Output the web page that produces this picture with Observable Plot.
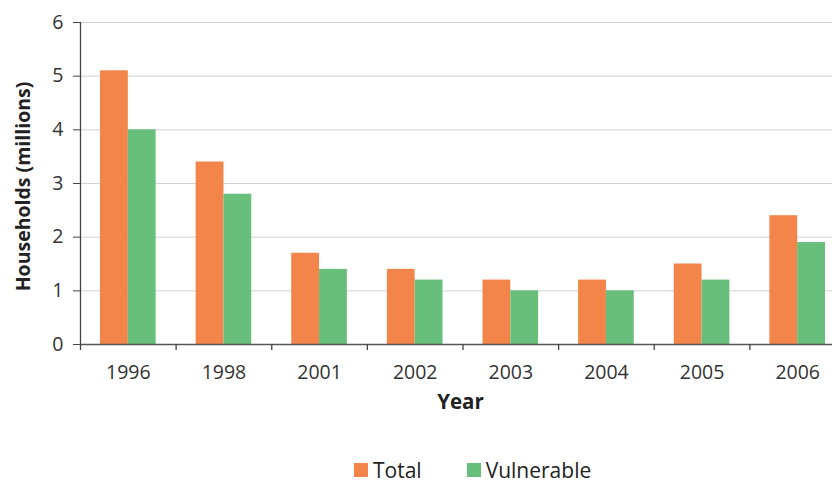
<!DOCTYPE html>
<html>
<head>
<meta charset="utf-8">
<script src="https://cdn.jsdelivr.net/npm/d3@7"></script>
<script src="https://cdn.jsdelivr.net/npm/@observablehq/plot@0.6"></script>
<style>
  body { margin: 0; background: #fff; font-family: "Open Sans", sans-serif; }
  #wrap { position: relative; width: 832px; height: 486px; }
  #chart svg text { font-size: 19.5px !important; }
  #chart svg g.lbl text { font-size: 20.5px !important; font-weight: bold; }
  #chart svg g.lbl.ylbl text { font-size: 19.5px !important; }
  #legend { position: absolute; left: 354px; top: 460px; display: flex; align-items: center; font-size: 21px; color: #222; white-space: nowrap; line-height: 20px; }
  .sw { display: inline-block; width: 14px; height: 14px; margin-right: 5px; }
  .item { display: flex; align-items: center; margin-right: 45px; }
</style>
</head>
<body>
<div id="wrap">
  <div id="chart"></div>
  <div id="legend"></div>
</div>
<script>
const years = ["1996", "1998", "2001", "2002", "2003", "2004", "2005", "2006"];
const total = [5.1, 3.4, 1.7, 1.4, 1.2, 1.2, 1.5, 2.4];
const vulnerable = [4.0, 2.8, 1.4, 1.2, 1.0, 1.0, 1.2, 1.9];
const seriesNames = ["Total", "Vulnerable"];
const colors = ["#F3844A", "#68BF7B"];
const yTicks = [0, 1, 2, 3, 4, 5, 6];

const totalData = years.map((y, i) => ({year: y, value: total[i]}));
const vulnData = years.map((y, i) => ({year: y, value: vulnerable[i]}));

const step = (845 - 80) / years.length;

const plot = Plot.plot({
  width: 832,
  height: 450,
  marginTop: 22,
  marginBottom: 106,
  marginLeft: 80,
  marginRight: 0,
  style: {fontFamily: "Open Sans, sans-serif", fontSize: "19px", color: "#333", overflow: "visible"},
  x: {domain: years, range: [80, 845], padding: 0, round: false, axis: null},
  y: {domain: [0, 6], axis: null},
  marks: [
    Plot.ruleY(yTicks.filter(d => d > 0), {stroke: "#d2d2d2", strokeWidth: 1}),
    Plot.barY(totalData, {x: "year", y: "value", fill: colors[0], insetLeft: 20, insetRight: 47.8}),
    Plot.barY(vulnData, {x: "year", y: "value", fill: colors[1], insetLeft: 47.8, insetRight: 20}),
    Plot.ruleY([0], {stroke: "#555", strokeWidth: 1.3}),
    Plot.ruleX(years, {x: d => d, dx: -step / 2, y1: 0, y2: 0, insetBottom: -6, stroke: "#444", strokeWidth: 1.3}),
    Plot.ruleX([years[0]], {x: d => d, dx: -step / 2, y1: 0, y2: 6, stroke: "#444", strokeWidth: 1.3}),
    Plot.axisY({ticks: yTicks, tickSize: 7, tickPadding: 10, tickFormat: d => String(d), stroke: "#444", fill: "#333", label: null}),
    Plot.axisX({tickSize: 0, tickPadding: 21, fill: "#333", label: null}),
    Plot.text(["Year"], {frameAnchor: "bottom", dx: 4, dy: 64, fill: "#222"}),
    Plot.text(["Households (millions)"], {frameAnchor: "left", textAnchor: "middle", rotate: -90, dx: -57, dy: 3, fill: "#222"})
  ]
});
document.getElementById("chart").appendChild(plot);
// style the two axis-title text groups
const titleGroups = plot.querySelectorAll("g[aria-label='text']");
titleGroups.forEach(g => g.classList.add("lbl"));
if (titleGroups[1]) titleGroups[1].classList.add("ylbl");

const legend = document.getElementById("legend");
seriesNames.forEach((name, i) => {
  const item = document.createElement("div");
  item.className = "item";
  const sw = document.createElement("span");
  sw.className = "sw";
  sw.style.background = colors[i];
  const label = document.createElement("span");
  label.textContent = name;
  item.appendChild(sw);
  item.appendChild(label);
  legend.appendChild(item);
});
</script>
</body>
</html>
